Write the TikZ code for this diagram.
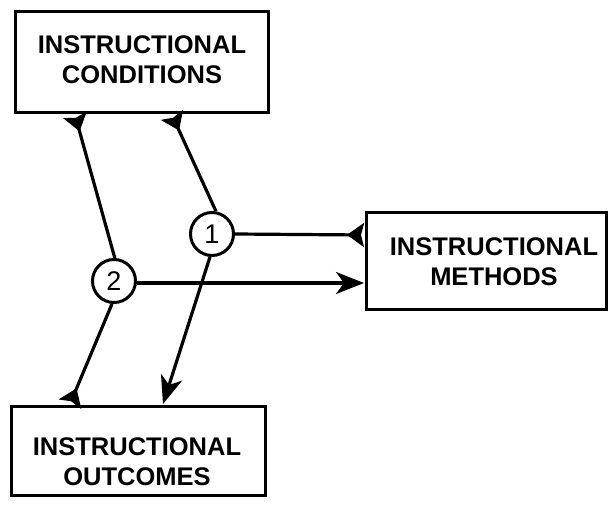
\documentclass[tikz,border=0pt]{standalone}
\usepackage{fontspec}
\setmainfont{Liberation Sans}
\usetikzlibrary{arrows.meta}
\begin{document}
\begin{tikzpicture}[x=1pt,y=-1pt,
  box/.style={draw,line width=3pt,inner sep=0pt},
  lbl/.style={font=\fontsize{25.5}{30}\selectfont\bfseries,align=center},
  num/.style={draw,circle,line width=3pt,minimum size=43pt,inner sep=0pt,font=\fontsize{27}{27}\selectfont},
  conn/.style={line width=3.2pt},
  tipin/.style={-{Stealth[length=28pt,width=22pt,inset=8pt]}},
  tipout/.style={-{Stealth[length=17pt,width=24pt,inset=3pt,reversed]}}]
\useasboundingbox (0,0) rectangle (608,508);
\fill[white] (0,0) rectangle (608,508);
% boxes
\draw[box] (15,12) rectangle (268,113);
\node[lbl] (cond) at (142,60) {INSTRUCTIONAL\\CONDITIONS};
\draw[box] (366,212) rectangle (606,309);
\node[lbl] (meth) at (494,262) {INSTRUCTIONAL\\METHODS};
\draw[box] (11,406) rectangle (265,495);
\node[lbl] (outc) at (137,462) {INSTRUCTIONAL\\OUTCOMES};
% circles
\node[num] (c1) at (212,234) {1};
\node[num] (c2) at (114,281) {2};
% box attachment points
\coordinate (k1) at (172,115);
\coordinate (k2) at (75,115);
\coordinate (m1) at (364,235);
\coordinate (m2) at (364,283);
\coordinate (o1) at (163,404);
\coordinate (o2) at (70,404);
% connectors
\draw[conn,tipout] (c1.80) -- (k1);
\draw[conn,tipout] (c2.88) -- (k2);
\draw[conn,tipout] (c1.east) -- (m1);
\draw[conn,tipin] (c2.east |- m2) -- (m2);
\draw[conn,tipin] (c1.265) -- (o1);
\draw[conn,tipout] (c2.265) -- (o2);
\end{tikzpicture}
\end{document}
